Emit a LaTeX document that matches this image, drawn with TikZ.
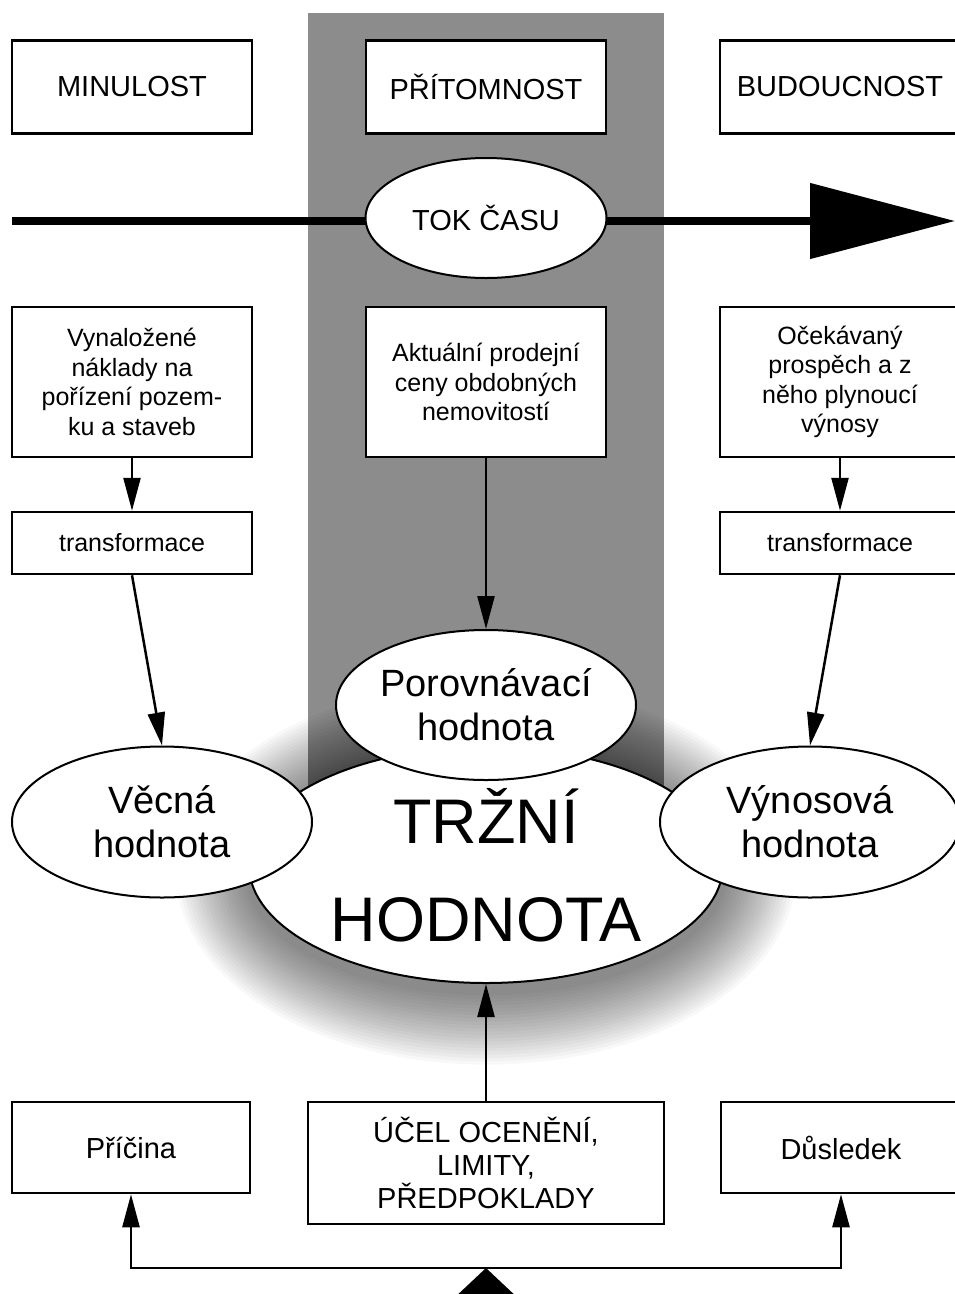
\documentclass[tikz,border=0pt]{standalone}
\usepackage{fontspec}
\setmainfont{Liberation Sans}
\usepackage{tikz}
\usetikzlibrary{shapes.geometric, arrows.meta}
\tikzstyle{box}=[draw, line width=2.5pt, fill=white, minimum width=240pt, align=center, inner sep=0pt]
\tikzstyle{oval}=[draw, line width=2pt, fill=white, ellipse, align=center, inner sep=0pt]
\tikzstyle{arr}=[line width=2.5pt, ->]
\tikzstyle{headfont}=[font=\fontsize{29pt}{33pt}\selectfont]
\tikzstyle{textfont}=[font=\fontsize{25pt}{29.5pt}\selectfont]
\tikzstyle{valuefont}=[font=\fontsize{38pt}{44pt}\selectfont]
\tikzstyle{marketfont}=[font=\fontsize{63pt}{98pt}\selectfont]

\begin{document}
\begin{tikzpicture}[x=1pt,y=-1pt,node distance=354pt,>={Triangle[length=33pt,width=17pt]}]
  \useasboundingbox (0,0) rectangle (955,1294);
  % band of the present
  \fill[black!45] (308,13) rectangle (664,865);
  % soft shadow round the market value
  \foreach \k in {1,...,22}
    \fill[black, opacity=0.026] (486,874) ellipse [x radius=237+3.3*\k, y radius=118+3.3*\k];
  % flow of time
  \coordinate (t0) at (12,221);
  \coordinate (t1) at (955,221);
  \draw[line width=8pt, -{Triangle[length=145pt,width=74pt]}] (t0) -- (t1);

  \node[box, headfont, minimum height=93pt] (minulost) at (132,87) {MINULOST};
  \node[box, headfont, minimum height=93pt, right of=minulost] (pritomnost) {PŘÍTOMNOST};
  \node[box, headfont, minimum height=93pt, right of=pritomnost] (budoucnost) {BUDOUCNOST};
  \node[oval, headfont, minimum width=241pt, minimum height=120pt] (tok) at (486,218) {TOK ČASU};

  \node[box, textfont, minimum height=150pt] (vynalozene) at (132,382) {Vynaložené\\náklady na\\pořízení pozem-\\ku a staveb};
  \node[box, textfont, minimum height=150pt, right of=vynalozene] (aktualni) {Aktuální prodejní\\ceny obdobných\\nemovitostí};
  \node[box, textfont, minimum height=150pt, right of=aktualni] (ocekavany) {Očekávaný\\prospěch a z\\něho plynoucí\\výnosy};
  \node[box, textfont, minimum height=62pt] (transfL) at (132,543) {transformace};
  \node[box, textfont, minimum height=62pt] (transfR) at (840,543) {transformace};

  \node[oval, marketfont, minimum width=474pt, minimum height=236pt] (trzni) at (486,865) {TRŽNÍ\\HODNOTA};
  \node[oval, valuefont, minimum width=300pt, minimum height=150pt] (porovn) at (486,705) {Porovnávací\\hodnota};
  \node[oval, valuefont, minimum width=300pt, minimum height=151pt] (vecna) at (162,822) {Věcná\\hodnota};
  \node[oval, valuefont, minimum width=300pt, minimum height=151pt] (vynos) at (810,822) {Výnosová\\hodnota};

  \node[box, headfont, minimum width=238pt, minimum height=91pt] (pricina) at (131,1147.5) {Příčina};
  \node[box, headfont, minimum width=356pt, minimum height=122pt] (ucel) at (486,1163) {ÚČEL OCENĚNÍ,\\LIMITY,\\PŘEDPOKLADY};
  \node[box, headfont, minimum height=91pt] (dusledek) at (841,1147.5) {Důsledek};
  \coordinate (pivot) at (486,1268);
  \fill (pivot) -- ++(34,32) -- ++(-68,0) -- cycle;

  \draw[arr] (vynalozene) -- (transfL);
  \draw[arr] (ocekavany) -- (transfR);
  \draw[arr] (aktualni) -- (porovn);
  \draw[arr] (transfL.south) -- (vecna.north);
  \draw[arr] (transfR.south) -- (vynos.north);
  \draw[arr] (ucel) -- (trzni);
  \draw[arr] (pivot) -| (pricina);
  \draw[arr] (pivot) -| (dusledek);
\end{tikzpicture}
\end{document}
